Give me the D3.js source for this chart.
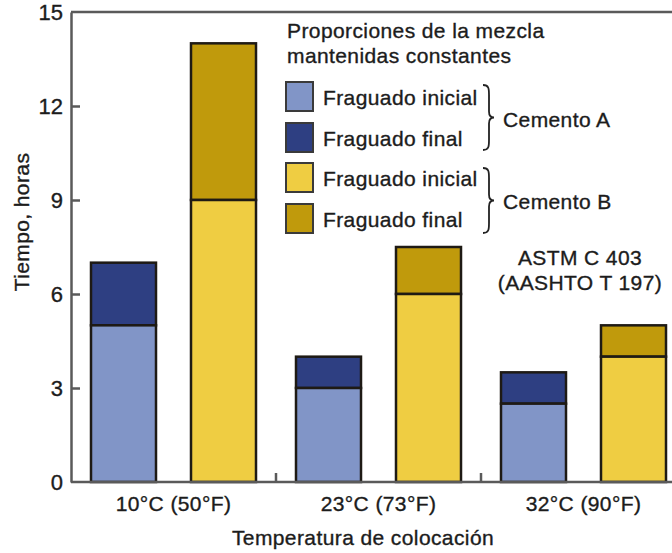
<!DOCTYPE html>
<html><head><meta charset="utf-8">
<script src="https://cdn.jsdelivr.net/npm/d3@7/dist/d3.min.js"></script>
<style>
body{margin:0;background:#fff;}
svg{display:block;font-family:"Liberation Sans",Arial,sans-serif;}
text{fill:#1c1c1c;stroke:#1c1c1c;stroke-width:0.35px;letter-spacing:0.4px;}
</style></head>
<body><svg id="c" width="672" height="553"></svg>
<script>
const categories = ["10°C (50°F)", "23°C (73°F)", "32°C (90°F)"];
const cements = ["A", "B"];
const initialA = [5, 3, 2.5];
const finalA = [7, 4, 3.5];
const initialB = [9, 6, 4];
const finalB = [14, 7.5, 5];
const yTicks = [0, 3, 6, 9, 12, 15];

const colors = {A:{ini:"#8195c7", fin:"#2e3f82"}, B:{ini:"#efcd42", fin:"#c09a0c"}};
const svg = d3.select("#c");
const L = 71, R = 686, T = 12, B = 482;
const FS = 21;
const x0 = d3.scaleBand().domain(categories).range([L, R]).paddingInner(0).paddingOuter(0);
const x1 = d3.scaleBand().domain(cements).range([0, x0.bandwidth()]).paddingInner(0.35).paddingOuter(0.2);
const y = d3.scaleLinear().domain([0, 15]).range([B, T]);

const data = [];
categories.forEach((c, i) => {
  data.push({cat:c, cem:"A", ini:initialA[i], fin:finalA[i]});
  data.push({cat:c, cem:"B", ini:initialB[i], fin:finalB[i]});
});

const g = svg.append("g");
data.forEach(d => {
  const xx = x0(d.cat) + x1(d.cem);
  g.append("rect").attr("x", xx).attr("y", y(d.fin)).attr("width", x1.bandwidth())
    .attr("height", y(d.ini) - y(d.fin)).attr("fill", colors[d.cem].fin)
    .attr("stroke", "#1e1a14").attr("stroke-width", 2.5);
  g.append("rect").attr("x", xx).attr("y", y(d.ini)).attr("width", x1.bandwidth())
    .attr("height", y(0) - y(d.ini)).attr("fill", colors[d.cem].ini)
    .attr("stroke", "#1e1a14").attr("stroke-width", 2.5);
});

const axisCol = "#5a5a5a";
svg.append("line").attr("x1", L).attr("x2", 672).attr("y1", y(15)).attr("y2", y(15)).attr("stroke", axisCol).attr("stroke-width", 2.5);
// y axis
const yAxis = d3.axisLeft(y).tickValues(yTicks).tickSize(-9).tickPadding(8).tickSizeOuter(0);
const ya = svg.append("g").attr("transform", `translate(${L},0)`).call(yAxis);
ya.select(".domain").attr("stroke", axisCol).attr("stroke-width", 2.5);
ya.selectAll(".tick line").attr("stroke", axisCol).attr("stroke-width", 2.5);
ya.selectAll(".tick text").attr("font-size", 22).attr("font-family", "Liberation Sans, Arial, sans-serif").style("letter-spacing", "0px");
ya.selectAll(".tick").filter(d => d === 15 || d === 0).select("line").remove();

// x axis
const xAxis = d3.axisBottom(x0).tickSize(0).tickPadding(14).tickSizeOuter(0);
const xa = svg.append("g").attr("transform", `translate(0,${B})`).call(xAxis);
xa.select(".domain").remove();
xa.selectAll(".tick text").attr("font-size", FS).attr("font-family", "Liberation Sans, Arial, sans-serif");
svg.append("line").attr("x1", L).attr("x2", 672).attr("y1", B).attr("y2", B).attr("stroke", axisCol).attr("stroke-width", 2.5);
categories.slice(1).forEach(c => {
  svg.append("line").attr("x1", x0(c)).attr("x2", x0(c)).attr("y1", B).attr("y2", B - 9).attr("stroke", axisCol).attr("stroke-width", 2.5);
});

// axis titles
svg.append("text").attr("transform", `translate(29,${(T + B) / 2 - 25}) rotate(-90)`).attr("text-anchor", "middle")
  .attr("font-size", FS).text("Tiempo, horas");
svg.append("text").attr("x", 363).attr("y", 545).attr("text-anchor", "middle")
  .attr("font-size", FS).text("Temperatura de colocación");

// legend
const leg = svg.append("g");
leg.append("text").attr("x", 287).attr("y", 38).attr("font-size", FS).text("Proporciones de la mezcla");
leg.append("text").attr("x", 287).attr("y", 63).attr("font-size", FS).text("mantenidas constantes");
const legItems = [
  {c: colors.A.ini, t: "Fraguado inicial", y: 82},
  {c: colors.A.fin, t: "Fraguado final", y: 123},
  {c: colors.B.ini, t: "Fraguado inicial", y: 163},
  {c: colors.B.fin, t: "Fraguado final", y: 204}
];
legItems.forEach(it => {
  leg.append("rect").attr("x", 286).attr("y", it.y).attr("width", 27).attr("height", 29)
    .attr("fill", it.c).attr("stroke", "#3a3a3a").attr("stroke-width", 2);
  leg.append("text").attr("x", 323).attr("y", it.y + 23).attr("font-size", FS).text(it.t);
});
function brace(x, y0, y1) {
  const m = (y0 + y1) / 2, w = 6;
  return `M${x},${y0} C${x + w},${y0} ${x + w},${y0 + 4} ${x + w},${y0 + 10} L${x + w},${m - 6} C${x + w},${m - 2} ${x + w + 2},${m} ${x + w + 5},${m} C${x + w + 2},${m} ${x + w},${m + 2} ${x + w},${m + 6} L${x + w},${y1 - 10} C${x + w},${y1 - 4} ${x + w},${y1} ${x},${y1}`;
}
leg.append("path").attr("d", brace(483, 85, 150)).attr("fill", "none").attr("stroke", "#222").attr("stroke-width", 1.8);
leg.append("path").attr("d", brace(483, 168, 233)).attr("fill", "none").attr("stroke", "#222").attr("stroke-width", 1.8);
leg.append("text").attr("x", 503).attr("y", 127).attr("font-size", FS).text("Cemento A");
leg.append("text").attr("x", 503).attr("y", 209).attr("font-size", FS).text("Cemento B");

svg.append("text").attr("x", 580).attr("y", 265).attr("text-anchor", "middle").attr("font-size", FS).text("ASTM C 403");
svg.append("text").attr("x", 580).attr("y", 290).attr("text-anchor", "middle").attr("font-size", FS).text("(AASHTO T 197)");
</script></body></html>
